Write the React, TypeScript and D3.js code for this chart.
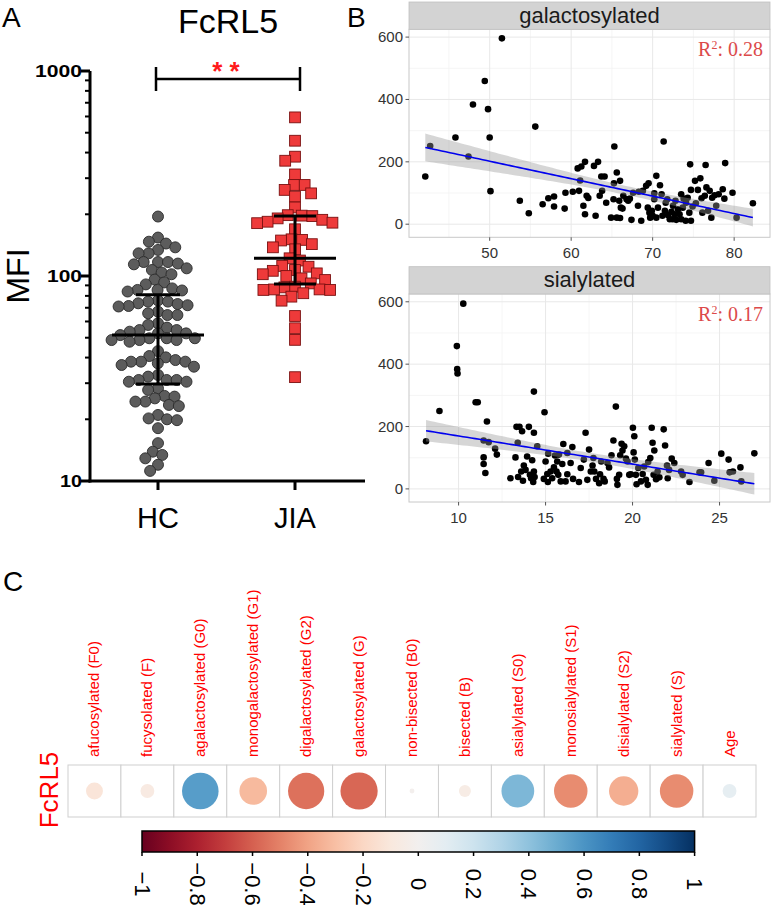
import React from "react";
import * as d3 from "d3";

// ---------------- Panel A data ----------------
const groups = ["HC", "JIA"];
const hcMFI = [195, 154, 144, 147, 134, 138, 129, 129, 115, 117, 117, 117, 114, 109, 107, 104, 102, 96, 93, 91,
  87, 85.5, 84, 85, 85.5, 76, 75, 72, 71, 71.4, 73, 75, 73.6, 64.5, 64.5, 65.8, 67, 58.8, 57.7,
  56, 54.5, 52.5, 51.5, 52.5, 53.5, 54.5, 49.7, 48.7, 48.7, 47.8, 48.7, 49.7, 49.7, 43, 40.7, 40.1,
  38.2, 36.8, 38.2, 38.9, 38.2, 36.1, 32.9, 37.5, 31.1, 30.5, 30.5, 31.1, 31.1, 32.3, 28.3, 27.8,
  26, 25.3, 24.4, 23.2, 23.5, 24.4, 25.8, 21, 20, 19.8, 20.2, 18.1, 15.3, 12.9, 13.9, 13.4, 11.2, 12];
const jiaMFI = [594, 457, 382, 365, 313, 278, 278, 253, 263, 244, 216, 197, 196, 198, 188, 182, 181, 184, 191,
  169, 151, 149, 150, 138, 143, 135, 122, 119, 107, 112, 103, 100, 111, 106, 102, 92, 88.7, 86, 82.4,
  85.5, 85.5, 86, 88, 95.6, 97.4, 79.3, 75.8, 63.8, 55.6, 48.8, 32.1];
const groupMean = [51.5, 122];
const groupUpper = [81, 196];
const groupLower = [29.7, 91.4];
const logTicks = [10, 100, 1000];

// ---------------- Panel B data ----------------
const galX = [42.1, 42.7, 45.8, 47.4, 47.95, 49.4, 49.8, 50, 50.1, 51.5, 53.7, 54.8, 55.6, 56.5, 57.2, 57.9, 57.9, 59.2, 59.3, 60.2,
  60.96, 61.1, 60.8, 61.25, 61.5, 61.7, 61.7, 61.9, 62.1, 62.8, 63.3, 63.0, 63.5, 63.7, 63.8, 64.1, 64.3, 64.9, 65.2, 65.25,
  65.3, 65.6, 65.6, 65.9, 66.0, 66.0, 66.1, 66.3, 66.4, 66.8, 67.0, 67.2, 67.4, 67.6, 68.2, 68.3, 68.6, 68.8, 69.2, 69.4,
  69.5, 69.6, 69.7, 69.8, 69.9, 70.0, 70.2, 70.2, 70.45, 70.45, 70.65, 70.9, 71.1, 71.2, 71.35, 71.5, 71.6, 71.8, 71.9, 72.1,
  72.3, 72.45, 72.5, 72.7, 72.8, 72.9, 73.1, 73.3, 73.5, 73.5, 73.7, 73.8, 74.05, 74.1, 74.3, 74.5, 74.6, 74.7, 74.7, 74.9,
  75.2, 75.3, 75.55, 75.85, 76.0, 76.1, 76.4, 76.5, 76.6, 76.8, 77.0, 77.2, 77.3, 77.6, 77.8, 78.1, 78.6, 78.8, 78.9, 79.8,
  80.3, 82.3];
const galY = [153, 251, 278, 217, 384, 459, 369, 278, 106, 596, 75, 35, 313, 64, 83, 89, 57, 50, 101, 104,
  107, 140, 179, 185, 59, 32, 200, 91, 84, 187, 200, 27, 91, 153, 107, 153, 69, 21, 80, 131,
  249, 166, 21, 75, 139, 20, 53, 50, 91, 80, 75, 82, 14, 101, 59, 104, 11, 107, 123, 53,
  131, 37, 21, 32, 43, 27, 80, 99, 155, 21, 53, 125, 96, 27, 265, 43, 69, 80, 29, 16,
  40, 16, 59, 32, 75, 14, 48, 32, 96, 16, 53, 82, 11, 69, 85, 37, 192, 11, 110, 57,
  139, 67, 110, 147, 83, 37, 91, 190, 118, 43, 107, 21, 85, 93, 59, 96, 112, 82, 196, 101,
  21, 67];
const sialX = [8.13, 8.9, 9.9, 9.92, 9.94, 10.27, 10.98, 11.1, 11.44, 11.44, 11.54, 11.44, 11.63, 11.73, 12.1, 12.2, 12.98, 13.27, 13.33, 13.4,
  13.42, 13.5, 13.6, 13.65, 13.7, 13.75, 13.85, 13.94, 14.04, 14.1, 14.17, 14.23, 14.29, 14.33, 14.33, 14.33, 14.37, 14.52, 14.9, 14.94,
  15.0, 15.1, 15.13, 15.15, 15.29, 15.38, 15.48, 15.54, 15.63, 15.67, 15.73, 15.77, 15.87, 15.96, 16.02, 16.15, 16.25, 16.25, 16.44, 16.54,
  16.58, 16.92, 17.02, 17.2, 17.3, 17.4, 17.5, 17.6, 17.7, 17.75, 17.8, 17.9, 18.08, 18.13, 18.2, 18.33, 18.4, 18.56, 18.65, 18.79,
  18.9, 19.04, 19.1, 19.13, 19.23, 19.29, 19.37, 19.42, 19.52, 19.62, 19.71, 19.81, 19.9, 20.02, 20.06, 20.1, 20.13, 20.19, 20.23, 20.33,
  20.48, 20.58, 20.67, 20.77, 20.87, 20.9, 21.02, 21.1, 21.15, 21.21, 21.25, 21.35, 21.44, 21.54, 21.79, 21.87, 21.98, 22.02, 22.1, 22.25,
  22.4, 22.79, 22.88, 23.27, 23.85, 23.94, 24.37, 24.7, 25.1, 25.52, 25.58, 25.77, 26.2, 26.25, 27.0];
const sialY = [153, 250, 458, 384, 370, 594, 278, 278, 155, 80, 51, 101, 216, 150, 129, 110, 34, 101, 199, 148,
  38, 199, 56, 185, 26, 75, 61, 104, 199, 45, 34, 92, 22, 312, 180, 56, 38, 137, 32, 246,
  88, 48, 22, 113, 56, 34, 69, 107, 56, 88, 45, 110, 24, 80, 144, 24, 47, 115, 83, 134,
  32, 22, 67, 94, 180, 29, 126, 56, 75, 99, 56, 32, 18, 47, 88, 32, 24, 83, 69, 108,
  155, 264, 32, 13, 45, 108, 145, 123, 137, 97, 88, 45, 47, 196, 117, 169, 94, 45, 15, 67,
  24, 48, 72, 29, 13, 86, 99, 196, 148, 45, 123, 31, 56, 37, 191, 139, 75, 34, 61, 97,
  83, 56, 45, 22, 53, 53, 83, 26, 113, 94, 53, 56, 69, 24, 114];
const yTicksB = [0, 200, 400, 600];
const galTicks = [50, 60, 70, 80];
const sialTicks = [10, 15, 20, 25];
const facetTitles = ["galactosylated", "sialylated"];
const r2Labels = ["0.28", "0.17"];

// ---------------- Panel C data ----------------
const glycanTraits = ["afucosylated (F0)", "fucysolated (F)", "agalactosylated (G0)", "monogalactosylated (G1)",
  "digalactosylated (G2)", "galactosylated (G)", "non-bisected (B0)", "bisected (B)", "asialylated (S0)",
  "monosialylated (S1)", "disialylated (S2)", "sialylated (S)", "Age"];
const corrValues = [-0.12, -0.08, 0.56, -0.32, -0.55, -0.58, -0.01, -0.06, 0.45, -0.47, -0.36, -0.47, 0.08];
const colorbarTicks = [-1, -0.8, -0.6, -0.4, -0.2, 0, 0.2, 0.4, 0.6, 0.8, 1];

const SANS = "'Liberation Sans', Arial, Helvetica, sans-serif";
const SERIF = "'Liberation Serif', 'Times New Roman', serif";

type SP = { v: number; x: number; y: number };
function beeswarm(vals: number[], yf: (v: number) => number, d: number): SP[] {
  const pts: SP[] = vals.map((v) => ({ v, y: yf(v), x: 0 })).sort((a, b) => a.y - b.y);
  const placed: SP[] = [];
  for (const p of pts) {
    const iv: [number, number][] = [];
    for (const q of placed) {
      const dy = Math.abs(q.y - p.y);
      if (dy < d) {
        const dx = Math.sqrt(d * d - dy * dy);
        iv.push([q.x - dx, q.x + dx]);
      }
    }
    const cands = [0];
    iv.forEach(([a, b]) => cands.push(a, b));
    cands.sort((a, b) => Math.abs(a) - Math.abs(b) || a - b);
    for (const c of cands) {
      if (iv.every(([a, b]) => c <= a + 1e-6 || c >= b - 1e-6)) {
        p.x = c;
        break;
      }
    }
    placed.push(p);
  }
  return placed;
}

function PanelA() {
  const y = d3.scaleLog().domain([10, 1000]).range([481, 71]);
  const x = d3.scalePoint().domain(groups).range([158, 295]);
  const axX0 = 90;
  const minor: number[] = [];
  [10, 100].forEach((b) => d3.range(2, 10).forEach((k) => minor.push(b * k)));
  const hc = beeswarm(hcMFI, y, 10);
  const jia = beeswarm(jiaMFI, y, 10.6);
  const cx = groups.map((g) => x(g) as number);
  const labelW: Record<number, number> = { 10: 22, 100: 35, 1000: 47 };
  return (
    <g>
      <text x={2} y={27} fontSize={28} fontFamily={SANS}>A</text>
      <text x={228} y={33} fontSize={34} fontFamily={SANS} textAnchor="middle">FcRL5</text>
      <text transform={`translate(29,276) rotate(-90)`} fontSize={32} fontFamily={SANS} textAnchor="middle">MFI</text>
      {/* axes */}
      <line x1={axX0} x2={axX0} y1={y(1000)} y2={482.5} stroke="#000" strokeWidth={3} />
      <line x1={axX0 - 1.5} x2={365} y1={481} y2={481} stroke="#000" strokeWidth={3} />
      {logTicks.map((t) => (
        <g key={t}>
          <line x1={axX0 - 9} x2={axX0} y1={y(t)} y2={y(t)} stroke="#000" strokeWidth={3} />
          <text x={axX0 - 8} y={y(t) + 6} fontSize={17} fontWeight="bold" fontFamily={SANS} textAnchor="end"
            textLength={labelW[t]} lengthAdjust="spacingAndGlyphs">{t}</text>
        </g>
      ))}
      {minor.map((t) => (
        <line key={t} x1={axX0 - 5} x2={axX0} y1={y(t)} y2={y(t)} stroke="#000" strokeWidth={2} />
      ))}
      {groups.map((g, i) => (
        <g key={g}>
          <line x1={cx[i]} x2={cx[i]} y1={481} y2={490} stroke="#000" strokeWidth={3} />
          <text x={cx[i]} y={528} fontSize={29} fontFamily={SANS} textAnchor="middle">{g}</text>
        </g>
      ))}
      {/* points */}
      {hc.map((p, i) => (
        <circle key={i} cx={cx[0] + p.x} cy={p.y} r={5.5} fill="#5c5c5c" stroke="#2a2a2a" strokeWidth={0.9} />
      ))}
      {jia.map((p, i) => (
        <rect key={i} x={cx[1] + p.x - 5.4} y={p.y - 5.4} width={10.8} height={10.8} fill="#ee3a3a" stroke="#7a1010" strokeWidth={0.9} />
      ))}
      {/* mean + SD */}
      {groups.map((g, i) => {
        const half = i === 0 ? 46 : 41;
        const cap = i === 0 ? 22 : 21;
        return (
          <g key={g} stroke="#000" strokeWidth={3}>
            <line x1={cx[i] - half} x2={cx[i] + half} y1={y(groupMean[i])} y2={y(groupMean[i])} />
            <line x1={cx[i]} x2={cx[i]} y1={y(groupUpper[i])} y2={y(groupLower[i])} />
            <line x1={cx[i] - cap} x2={cx[i] + cap} y1={y(groupUpper[i])} y2={y(groupUpper[i])} />
            <line x1={cx[i] - cap} x2={cx[i] + cap} y1={y(groupLower[i])} y2={y(groupLower[i])} />
          </g>
        );
      })}
      {/* significance bracket */}
      <g stroke="#000" strokeWidth={2.5}>
        <line x1={156} x2={300} y1={79} y2={79} />
        <line x1={156} x2={156} y1={67} y2={91} />
        <line x1={300} x2={300} y1={67} y2={91} />
      </g>
      <text x={226} y={80} fontSize={26} fontWeight="bold" fill="#ff1a1a" fontFamily={SANS} textAnchor="middle">* *</text>
    </g>
  );
}

function fitLine(xs: number[], ys: number[]) {
  const n = xs.length;
  const mx = d3.mean(xs) as number;
  const my = d3.mean(ys) as number;
  let sxx = 0, sxy = 0;
  for (let i = 0; i < n; i++) { sxx += (xs[i] - mx) ** 2; sxy += (xs[i] - mx) * (ys[i] - my); }
  const b = sxy / sxx;
  const a = my - b * mx;
  let sse = 0;
  for (let i = 0; i < n; i++) sse += (ys[i] - a - b * xs[i]) ** 2;
  const s = Math.sqrt(sse / (n - 2));
  const t = 1.978;
  const [x0, x1] = d3.extent(xs) as [number, number];
  const grid = d3.range(0, 81).map((k) => x0 + ((x1 - x0) * k) / 80);
  return grid.map((xv) => {
    const fit = a + b * xv;
    const se = s * Math.sqrt(1 / n + (xv - mx) ** 2 / sxx);
    return { x: xv, fit, lo: fit - t * se, hi: fit + t * se };
  });
}

function Facet({ top, xs, ys, xDomain, xTicks, title, r2, minorX }: any) {
  const left = 409, right = 770;
  const stripTop = top, stripBot = top + 27.3, panelBot = top + 235.3;
  const x = d3.scaleLinear().domain(xDomain).range([left, right]);
  const y = d3.scaleLinear().domain([-42, 625]).range([panelBot, stripBot]);
  const fit = fitLine(xs, ys);
  const area = d3.area<any>().x((d) => x(d.x)).y0((d) => y(d.lo)).y1((d) => y(d.hi));
  const line = d3.line<any>().x((d) => x(d.x)).y((d) => y(d.fit));
  const minorY = [100, 300, 500];
  const clipId = `clip${Math.round(top)}`;
  return (
    <g>
      <defs>
        <clipPath id={clipId}><rect x={left} y={stripBot} width={right - left} height={panelBot - stripBot} /></clipPath>
      </defs>
      <rect x={left} y={stripBot} width={right - left} height={panelBot - stripBot} fill="#fff" />
      <g clipPath={`url(#${clipId})`}>
        {minorY.map((t) => <line key={"my" + t} x1={left} x2={right} y1={y(t)} y2={y(t)} stroke="#f3f3f3" strokeWidth={0.8} />)}
        {minorX.map((t: number) => <line key={"mx" + t} x1={x(t)} x2={x(t)} y1={stripBot} y2={panelBot} stroke="#f3f3f3" strokeWidth={0.8} />)}
        {yTicksB.map((t) => <line key={"gy" + t} x1={left} x2={right} y1={y(t)} y2={y(t)} stroke="#e8e8e8" strokeWidth={1} />)}
        {xTicks.map((t: number) => <line key={"gx" + t} x1={x(t)} x2={x(t)} y1={stripBot} y2={panelBot} stroke="#e8e8e8" strokeWidth={1} />)}
        {xs.map((xv: number, i: number) => <circle key={i} cx={x(xv)} cy={y(ys[i])} r={3.3} fill="#000" />)}
        <path d={area(fit) as string} fill="#999" fillOpacity={0.4} />
        <path d={line(fit) as string} fill="none" stroke="#0000ee" strokeWidth={1.6} />
      </g>
      <rect x={left} y={stripBot} width={right - left} height={panelBot - stripBot} fill="none" stroke="#c8c8c8" strokeWidth={1} />
      <rect x={left} y={stripTop} width={right - left} height={stripBot - stripTop} fill="#d3d3d3" stroke="#c0c0c0" strokeWidth={0.8} />
      <text x={(left + right) / 2} y={stripTop + 20.5} fontSize={22} fontFamily={SANS} fill="#1a1a1a" textAnchor="middle">{title}</text>
      {yTicksB.map((t) => (
        <g key={t}>
          <line x1={left - 3.5} x2={left} y1={y(t)} y2={y(t)} stroke="#555" strokeWidth={1} />
          <text x={left - 6} y={y(t) + 5} fontSize={15} fontFamily={SANS} fill="#333" textAnchor="end">{t}</text>
        </g>
      ))}
      {xTicks.map((t: number) => (
        <g key={t}>
          <line x1={x(t)} x2={x(t)} y1={panelBot} y2={panelBot + 3.5} stroke="#555" strokeWidth={1} />
          <text x={x(t)} y={panelBot + 21} fontSize={15} fontFamily={SANS} fill="#333" textAnchor="middle">{t}</text>
        </g>
      ))}
      <text x={763} y={stripBot + 27} fontSize={20} fontFamily={SERIF} fill="#dc4a4a" textAnchor="end">
        R<tspan fontSize={12} dy={-7}>2</tspan><tspan dy={7}>: {r2}</tspan>
      </text>
    </g>
  );
}

function PanelB() {
  return (
    <g>
      <text x={347} y={27} fontSize={28} fontFamily={SANS}>B</text>
      <Facet top={2} xs={galX} ys={galY} xDomain={[40.1, 84.4]} xTicks={galTicks} minorX={[45, 55, 65, 75]} title={facetTitles[0]} r2={r2Labels[0]} />
      <Facet top={266.7} xs={sialX} ys={sialY} xDomain={[7.15, 27.9]} xTicks={sialTicks} minorX={[12.5, 17.5, 22.5]} title={facetTitles[1]} r2={r2Labels[1]} />
    </g>
  );
}

function PanelC() {
  const x = d3.scaleBand().domain(glycanTraits).range([68, 756]);
  const cellTop = 765, cellH = 52;
  const bw = x.bandwidth();
  const color = (r: number) => d3.interpolateRdBu((r + 1) / 2);
  const cb = d3.scaleLinear().domain([-1, 1]).range([142, 694.6]);
  const stops = d3.range(0, 21).map((k) => k / 20);
  const fmt = (t: number) => (t === 0 ? "0" : t === 1 ? "1" : t === -1 ? "\u22121" : (t < 0 ? "\u2212" : "") + Math.abs(t).toFixed(1));
  return (
    <g>
      <text x={3} y={591} fontSize={28} fontFamily={SANS}>C</text>
      {glycanTraits.map((g) => (
        <text key={g} transform={`translate(${(x(g) as number) + bw / 2 + 5},757) rotate(-90)`} fontSize={15} fontFamily={SANS} fill="#ff0000">{g}</text>
      ))}
      <text transform={`translate(58,790) rotate(-90)`} fontSize={26} fontFamily={SANS} fill="#ff0000" textAnchor="middle">FcRL5</text>
      {glycanTraits.map((g) => (
        <rect key={g} x={x(g)} y={cellTop} width={bw} height={cellH} fill="#fff" stroke="#cfcfcf" strokeWidth={1} />
      ))}
      {glycanTraits.map((g, i) => (
        <circle key={g} cx={(x(g) as number) + bw / 2} cy={cellTop + cellH / 2} r={0.47 * cellH * Math.sqrt(Math.abs(corrValues[i]))} fill={color(corrValues[i])} />
      ))}
      <defs>
        <linearGradient id="cbgrad" x1="0" x2="1" y1="0" y2="0">
          {stops.map((s) => <stop key={s} offset={s} stopColor={d3.interpolateRdBu(s)} />)}
        </linearGradient>
      </defs>
      <rect x={cb(-1)} y={831} width={cb(1) - cb(-1)} height={21} fill="url(#cbgrad)" stroke="#000" strokeWidth={1.5} />
      {colorbarTicks.map((t) => (
        <g key={t}>
          <line x1={cb(t)} x2={cb(t)} y1={852} y2={856} stroke="#000" strokeWidth={1.5} />
          <text transform={`translate(${cb(t) - 7.5},884) rotate(90)`} fontSize={22} fontFamily={SANS} textAnchor="middle">{fmt(t)}</text>
        </g>
      ))}
    </g>
  );
}

export default function App() {
  return (
    <svg width={771} height={909} style={{ position: "absolute", left: 0, top: 0, background: "#fff" }} fontFamily={SANS}>
      <rect width={771} height={909} fill="#fff" />
      <PanelA />
      <PanelB />
      <PanelC />
    </svg>
  );
}
